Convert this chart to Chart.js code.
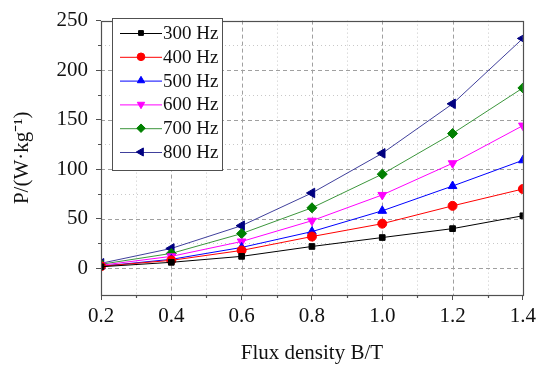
<!DOCTYPE html>
<html>
<head>
<meta charset="UTF-8">
<title>P vs B</title>
<style>
  body { margin: 0; background: #fff; }
  #chart { display: block; }
</style>
</head>
<body>
<canvas id="chart" width="540" height="370"></canvas>
<script src="https://cdn.jsdelivr.net/npm/chart.js"></script>
<script>
  // data
  const fluxB = [0.2, 0.4, 0.6, 0.8, 1.0, 1.2, 1.4];
  const seriesNames = ['300 Hz', '400 Hz', '500 Hz', '600 Hz', '700 Hz', '800 Hz'];
  const p300 = [1.5, 6, 12, 22, 31, 40, 53];
  const p400 = [2, 8, 18, 32, 45, 63, 80];
  const p500 = [2, 9, 21, 37, 58, 83, 109];
  const p600 = [3, 12, 27, 48, 74, 106, 144];
  const p700 = [4, 15, 35, 61, 95, 136, 182];
  const p800 = [5, 20, 43, 76, 116, 166, 232];
  const yTicks = [0, 50, 100, 150, 200, 250];
  const yMinor = [25, 75, 125, 175, 225];
  const xTicks = [0.2, 0.4, 0.6, 0.8, 1.0, 1.2, 1.4];
  const xMinor = [0.3, 0.5, 0.7, 0.9, 1.1, 1.3];

  const lineColors = ['#000000', '#ff0000', '#0000ff', '#ff00ff', '#3c963c', '#40409c'];
  const markColors = ['#000000', '#ff0000', '#0000ff', '#ff00ff', '#008000', '#000080'];
  const markStyles = ['rect', 'circle', 'triangle', 'triangle', 'rectRot', 'triangle'];
  const markRot = [0, 0, 0, 180, 0, -90];
  const markSize = [4, 4.5, 5, 5, 5, 5.5];

  const allSeries = [p300, p400, p500, p600, p700, p800];
  const serif = "'Liberation Serif', 'Times New Roman', serif";

  const datasets = allSeries.map((vals, i) => ({
    label: seriesNames[i],
    data: fluxB.map((b, j) => ({ x: b, y: vals[j] })),
    borderColor: lineColors[i],
    backgroundColor: markColors[i],
    pointBorderColor: markColors[i],
    pointBackgroundColor: markColors[i],
    pointStyle: markStyles[i],
    rotation: markRot[i],
    pointRadius: markSize[i],
    borderWidth: 1,
    tension: 0
  }));

  // grid lines, minor ticks and frame
  const gridPlugin = {
    id: 'grid',
    beforeDatasetsDraw(chart) {
      const { ctx, chartArea: a, scales: { x, y } } = chart;
      ctx.save();
      ctx.lineWidth = 1;
      // minor dotted
      ctx.strokeStyle = '#c8c8c8';
      ctx.setLineDash([1, 3]);
      yMinor.forEach(v => {
        const py = Math.round(y.getPixelForValue(v)) + 0.5;
        ctx.beginPath(); ctx.moveTo(a.left, py); ctx.lineTo(a.right, py); ctx.stroke();
      });
      xMinor.forEach(v => {
        const px = Math.round(x.getPixelForValue(v)) + 0.5;
        ctx.beginPath(); ctx.moveTo(px, a.top); ctx.lineTo(px, a.bottom); ctx.stroke();
      });
      // major dashed
      ctx.strokeStyle = '#a0a0a0';
      ctx.setLineDash([4, 3]);
      yTicks.forEach(v => {
        const py = Math.round(y.getPixelForValue(v)) + 0.5;
        ctx.beginPath(); ctx.moveTo(a.left, py); ctx.lineTo(a.right, py); ctx.stroke();
      });
      xTicks.slice(1, -1).forEach(v => {
        const px = Math.round(x.getPixelForValue(v)) + 0.5;
        ctx.beginPath(); ctx.moveTo(px, a.top); ctx.lineTo(px, a.bottom); ctx.stroke();
      });
      ctx.restore();
    },
    afterDatasetsDraw(chart) {
      const { ctx, chartArea: a, scales: { x, y } } = chart;
      ctx.save();
      ctx.strokeStyle = '#505050';
      ctx.lineWidth = 1.2;
      ctx.setLineDash([]);
      ctx.strokeRect(Math.round(a.left) + 0.5, Math.round(a.top) + 0.5,
                     Math.round(a.right - a.left), Math.round(a.bottom - a.top));
      // minor ticks
      ctx.beginPath();
      yMinor.forEach(v => {
        const py = Math.round(y.getPixelForValue(v)) + 0.5;
        ctx.moveTo(a.left - 3, py); ctx.lineTo(a.left, py);
      });
      xMinor.forEach(v => {
        const px = Math.round(x.getPixelForValue(v)) + 0.5;
        ctx.moveTo(px, a.bottom); ctx.lineTo(px, a.bottom + 3);
      });
      ctx.stroke();
      ctx.restore();
    }
  };

  // legend box inside the plot
  const legendPlugin = {
    id: 'boxLegend',
    afterDraw(chart) {
      const { ctx } = chart;
      const bx = 112, by = 18, bw = 110, bh = 152, rowH = 23.8;
      ctx.save();
      ctx.fillStyle = '#fff';
      ctx.fillRect(bx, by, bw, bh);
      ctx.strokeStyle = '#505050';
      ctx.lineWidth = 1;
      ctx.strokeRect(bx + 0.5, by + 0.5, bw, bh);
      ctx.font = '19px ' + serif;
      ctx.textBaseline = 'middle';
      chart.data.datasets.forEach((ds, i) => {
        const cy = by + 15 + i * rowH;
        ctx.strokeStyle = ds.borderColor;
        ctx.lineWidth = 1;
        ctx.beginPath(); ctx.moveTo(120, cy + 0.5); ctx.lineTo(162, cy + 0.5); ctx.stroke();
        ctx.fillStyle = ds.pointBackgroundColor;
        ctx.strokeStyle = ds.pointBorderColor;
        Chart.helpers.drawPoint(ctx, { pointStyle: ds.pointStyle, rotation: ds.rotation, radius: ds.pointRadius * 0.85, borderWidth: 1 }, 141, cy);
        ctx.fillStyle = '#111';
        ctx.fillText(ds.label, 163, cy + 1);
      });
      ctx.restore();
    }
  };

  new Chart(document.getElementById('chart'), {
    type: 'line',
    data: { datasets },
    options: {
      responsive: false,
      animation: false,
      layout: { padding: { top: 13, right: 16, left: 0, bottom: 0 } },
      plugins: { legend: { display: false }, tooltip: { enabled: false } },
      scales: {
        x: {
          type: 'linear',
          min: 0.2, max: 1.4,
          afterBuildTicks: s => { s.ticks = xTicks.map(v => ({ value: v })); },
          afterFit: s => { s.height = 75; },
          grid: { display: true, drawOnChartArea: false, tickLength: 5, color: '#505050' },
          border: { display: false },
          ticks: {
            padding: 4, color: '#111', maxRotation: 0,
            font: { family: serif, size: 21 },
            callback: v => Number(v).toFixed(1)
          },
          title: { display: true, text: 'Flux density B/T', color: '#111',
                   font: { family: serif, size: 21 }, padding: { top: 0, bottom: 4 } }
        },
        y: {
          min: -27, max: 250,
          afterBuildTicks: s => { s.ticks = yTicks.map(v => ({ value: v })); },
          afterFit: s => { s.width = 101; },
          grid: { display: true, drawOnChartArea: false, tickLength: 5, color: '#505050' },
          border: { display: false },
          ticks: { padding: 8, color: '#111', font: { family: serif, size: 21 } },
          title: { display: true, text: 'P/(W·kg⁻¹)', color: '#111',
                   font: { family: serif, size: 21 }, padding: { top: 10, bottom: 0 } }
        }
      }
    },
    plugins: [gridPlugin, legendPlugin]
  });
</script>
</body>
</html>
